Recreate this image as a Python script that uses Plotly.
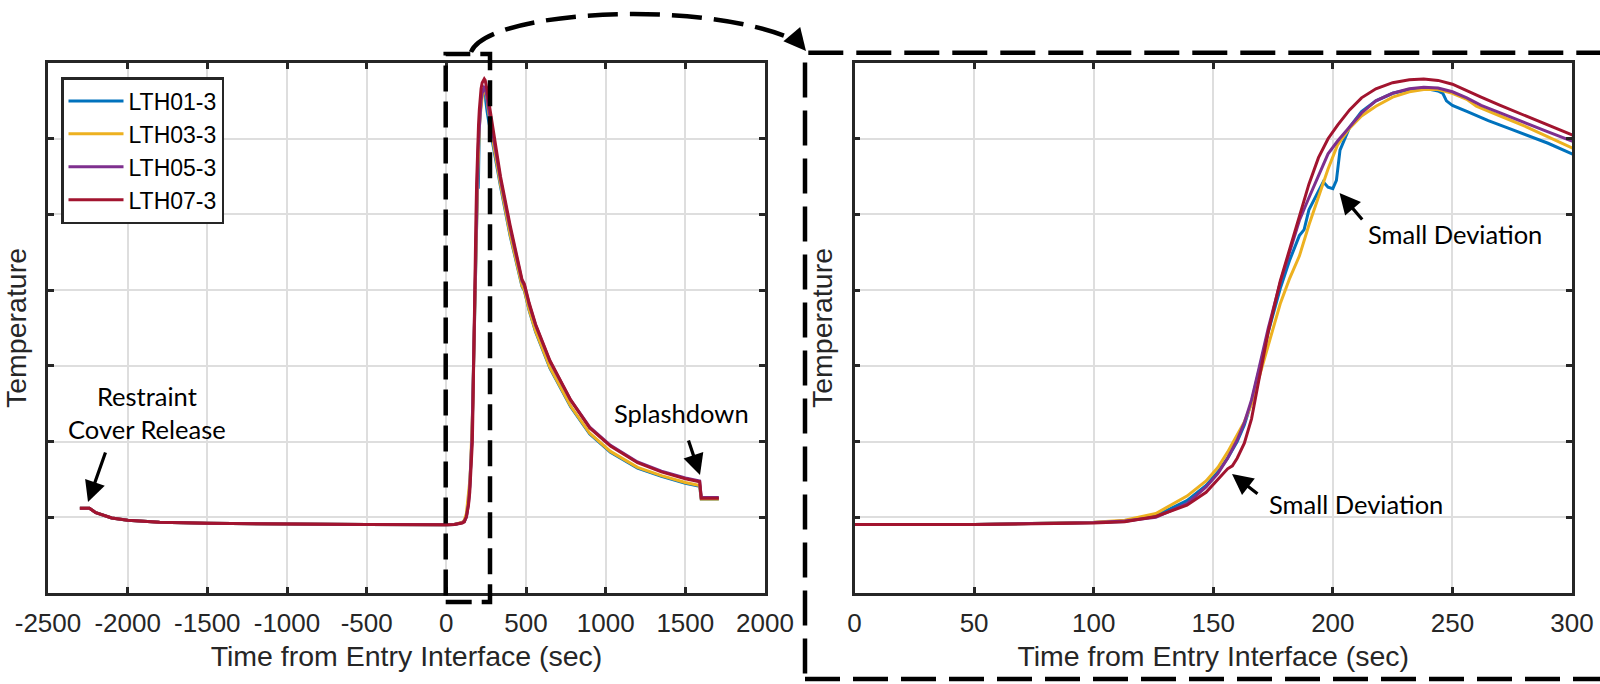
import plotly.graph_objects as go

# ---------------- data ----------------
series_names = ["LTH01-3", "LTH03-3", "LTH05-3", "LTH07-3"]
series_colors = ["#0072BD", "#EDB120", "#7E2F8E", "#A2142F"]

# pre-entry portion (all four sensors overlap)
t_pre = [-2300, -2240, -2200, -2150, -2100, -2000, -1800, -1500, -1000, -500]
v_pre = [1.12, 1.12, 1.06, 1.02, 0.99, 0.96, 0.935, 0.92, 0.91, 0.905]

t_lth01 = [0, 50, 100, 113, 126, 139, 147, 152, 156, 160, 163, 166, 169, 173, 178, 182, 186,
           188, 190, 193, 196, 198, 200, 201.5, 203, 207, 212, 218, 225, 232, 238, 244, 246,
           247.5, 250, 256, 265, 275, 290, 300,
           340, 400, 455, 475, 490, 520, 560, 650, 780, 900, 1030, 1200, 1350, 1500, 1590,
           1600, 1710]
v_lth01 = [0.90, 0.905, 0.93, 0.945, 1.02, 1.22, 1.42, 1.60, 1.78, 2.00, 2.22, 2.52, 2.92,
           3.45, 4.02, 4.40, 4.72, 4.80, 5.06, 5.25, 5.43, 5.36, 5.34, 5.45, 5.85, 6.15, 6.36,
           6.50, 6.60, 6.65, 6.67, 6.63, 6.60, 6.50, 6.44, 6.36, 6.24, 6.12, 5.94, 5.80,
           5.37, 4.72, 4.22, 4.05, 3.99, 3.73, 3.45, 2.97, 2.46, 2.10, 1.86, 1.65, 1.54, 1.45,
           1.41, 1.24, 1.24]

t_lth03 = [0, 50, 100, 113, 126, 139, 147, 152, 156, 160, 163, 166, 169, 173, 176, 178, 182,
           186, 190, 194, 198, 202, 207, 212, 218, 225, 232, 238, 244, 250, 256, 260, 265, 270,
           280, 290, 300,
           340, 400, 455, 475, 490, 520, 560, 650, 780, 900, 1030, 1200, 1350, 1500, 1590,
           1600, 1710]
v_lth03 = [0.90, 0.905, 0.935, 0.96, 1.05, 1.28, 1.48, 1.66, 1.86, 2.08, 2.26, 2.50, 2.83,
           3.30, 3.62, 3.82, 4.16, 4.45, 4.86, 5.22, 5.60, 5.92, 6.14, 6.30, 6.43, 6.55, 6.62,
           6.65, 6.65, 6.60, 6.52, 6.43, 6.36, 6.30, 6.17, 6.03, 5.88,
           5.40, 4.74, 4.24, 4.06, 4.00, 3.74, 3.46, 2.98, 2.47, 2.11, 1.87, 1.66, 1.55, 1.46,
           1.42, 1.24, 1.24]

t_lth05 = [0, 50, 100, 113, 126, 139, 147, 152, 156, 160, 163, 166, 169, 173, 178, 182, 186,
           190, 194, 198, 202, 207, 212, 218, 225, 232, 238, 244, 250, 256, 262, 270, 280, 290,
           300,
           340, 400, 455, 475, 490, 520, 560, 650, 780, 900, 1030, 1200, 1350, 1500, 1590,
           1600, 1710]
v_lth05 = [0.90, 0.905, 0.93, 0.95, 1.00, 1.18, 1.40, 1.58, 1.78, 2.02, 2.25, 2.55, 2.95,
           3.50, 4.10, 4.50, 4.92, 5.22, 5.52, 5.80, 5.97, 6.16, 6.34, 6.50, 6.60, 6.66, 6.68,
           6.67, 6.62, 6.54, 6.44, 6.34, 6.21, 6.09, 5.97,
           5.46, 4.82, 4.32, 4.12, 4.06, 3.81, 3.54, 3.06, 2.55, 2.19, 1.95, 1.73, 1.61, 1.52,
           1.48, 1.26, 1.26]

t_lth07 = [0, 50, 100, 113, 126, 139, 147, 152, 156, 158, 160, 163, 166, 169, 173, 178, 182,
           186, 190, 194, 198, 202, 207, 212, 218, 225, 232, 238, 244, 250, 256, 262, 270, 280,
           290, 300,
           340, 400, 455, 475, 490, 520, 560, 650, 780, 900, 1030, 1200, 1350, 1500, 1590,
           1600, 1710]
v_lth07 = [0.90, 0.905, 0.925, 0.94, 1.01, 1.16, 1.33, 1.50, 1.64, 1.68, 1.78, 1.98, 2.30,
           2.80, 3.45, 4.12, 4.55, 4.98, 5.40, 5.75, 6.00, 6.18, 6.38, 6.54, 6.66, 6.74, 6.78,
           6.79, 6.77, 6.72, 6.64, 6.55, 6.44, 6.31, 6.18, 6.05,
           5.50, 4.86, 4.36, 4.14, 4.08, 3.83, 3.55, 3.07, 2.55, 2.18, 1.94, 1.72, 1.60, 1.51,
           1.47, 1.25, 1.25]

series_t = [t_lth01, t_lth03, t_lth05, t_lth07]
series_v = [v_lth01, v_lth03, v_lth05, v_lth07]

left_xticks = [-2500, -2000, -1500, -1000, -500, 0, 500, 1000, 1500, 2000]
right_xticks = [0, 50, 100, 150, 200, 250, 300]
y_ticks = [0, 1, 2, 3, 4, 5, 6, 7]

x_title = "Time from Entry Interface (sec)"
y_title = "Temperature"

# ---------------- figure ----------------
W, H = 1600, 684
def px(x):
    return x / W
def py(y):
    return 1 - y / H

fig = go.Figure()
for name, col, ts, vs in zip(series_names, series_colors, series_t, series_v):
    fig.add_trace(go.Scatter(x=t_pre + ts, y=v_pre + vs, mode="lines", name=name,
                             line=dict(color=col, width=3), xaxis="x", yaxis="y"))
for name, col, ts, vs in zip(series_names, series_colors, series_t, series_v):
    fig.add_trace(go.Scatter(x=t_pre + ts, y=v_pre + vs, mode="lines", name=name,
                             line=dict(color=col, width=3), xaxis="x2", yaxis="y2",
                             showlegend=False))

axis_font = dict(family="Liberation Sans, Arial, sans-serif", size=26, color="#262626")
title_font = dict(family="Liberation Sans, Arial, sans-serif", size=28.5, color="#262626")
common_axis = dict(showline=True, linecolor="#262626", linewidth=2.5, mirror="ticks",
                   ticks="inside", ticklen=6, tickwidth=2.5, tickcolor="#262626",
                   showgrid=True, gridcolor="#dedede", gridwidth=1.5, zeroline=False,
                   automargin=False, tickfont=axis_font)

ydom = [py(593), py(63)]
fig.update_layout(
    width=W, height=H, margin=dict(l=0, r=0, t=0, b=0),
    paper_bgcolor="white", plot_bgcolor="white",
    xaxis=dict(domain=[px(48), px(765)], range=[-2500, 2000], tickmode="array",
               tickvals=left_xticks, ticktext=[str(v) for v in left_xticks],
               ticklabelstandoff=5,
               title=dict(text=x_title, font=title_font, standoff=10), anchor="y",
               **common_axis),
    yaxis=dict(domain=ydom, range=[0, 7], tickmode="array", tickvals=y_ticks,
               showticklabels=False,
               title=dict(text=y_title, font=title_font, standoff=11), anchor="x",
               **common_axis),
    xaxis2=dict(domain=[px(854.5), px(1572)], range=[0, 300], tickmode="array",
                tickvals=right_xticks, ticktext=[str(v) for v in right_xticks],
                ticklabelstandoff=5,
                title=dict(text=x_title, font=title_font, standoff=10), anchor="y2",
                **common_axis),
    yaxis2=dict(domain=ydom, range=[0, 7], tickmode="array", tickvals=y_ticks,
                showticklabels=False,
                title=dict(text=y_title, font=title_font, standoff=11), anchor="x2",
                **common_axis),
    legend=dict(x=px(61), y=py(77), xanchor="left", yanchor="top",
                bgcolor="white", bordercolor="#262626", borderwidth=2.5,
                tracegroupgap=0, itemwidth=55,
                font=dict(family="Liberation Sans, Arial, sans-serif", size=23, color="black")),
    showlegend=True,
)

# ---------------- dashed callout shapes ----------------
dash = "35px,13px"
fig.add_shape(type="rect", xref="paper", yref="paper",
              x0=px(445.7), x1=px(490), y0=py(602), y1=py(54),
              line=dict(color="black", width=4.5, dash="26px,10px"))
fig.add_shape(type="rect", xref="paper", yref="paper",
              x0=px(805), x1=px(1615), y0=py(679), y1=py(52.7),
              line=dict(color="black", width=4.5, dash=dash))
pts = [(471, 52), (488, 10), (705, -2), (797, 41)]
path = "M {:.5f},{:.5f} C {:.5f},{:.5f} {:.5f},{:.5f} {:.5f},{:.5f}".format(
    px(pts[0][0]), py(pts[0][1]), px(pts[1][0]), py(pts[1][1]),
    px(pts[2][0]), py(pts[2][1]), px(pts[3][0]), py(pts[3][1]))
fig.add_shape(type="path", xref="paper", yref="paper", path=path,
              line=dict(color="black", width=4.5, dash="30px,12px"))

# ---------------- annotations ----------------
note_font = dict(family="Lato, Open Sans, sans-serif", size=25.5, color="black")

def arrow(head, tail, width=3.2, size=1.3):
    fig.add_annotation(xref="paper", yref="paper", x=px(head[0]), y=py(head[1]),
                       ax=tail[0] - head[0], ay=tail[1] - head[1], axref="pixel", ayref="pixel",
                       text="", showarrow=True, arrowhead=2, arrowsize=size,
                       arrowwidth=width, arrowcolor="black", standoff=0, startstandoff=0)

def note(x, y, text):
    fig.add_annotation(xref="paper", yref="paper", x=px(x), y=py(y), text=text,
                       showarrow=False, font=note_font, xanchor="center", yanchor="middle",
                       align="center")

note(147, 412, "Restraint<br>Cover Release")
arrow((88, 502), (106, 451))
note(681, 413, "Splashdown")
arrow((700, 475), (688, 439))
note(1455, 234, "Small Deviation")
arrow((1339.5, 193), (1363.5, 221))
note(1356, 504, "Small Deviation")
arrow((1232, 474), (1259, 495))
arrow((806, 51), (795, 38), width=4, size=1.1)

fig.write_html("out.html")
